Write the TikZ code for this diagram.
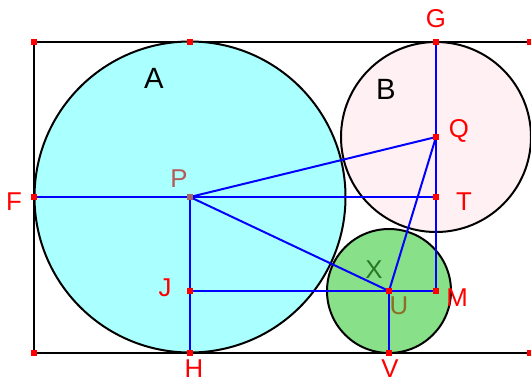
\documentclass[tikz,border=0pt]{standalone}
\usepackage{fontspec}
\setmainfont{Liberation Sans}
\usepackage{tikz}
\usetikzlibrary{positioning}

\definecolor{fillA}{RGB}{170,255,255}
\definecolor{fillB}{RGB}{255,240,243}
\definecolor{fillX}{RGB}{136,224,136}
\definecolor{labP}{RGB}{180,90,90}
\definecolor{labX}{RGB}{40,120,40}
\definecolor{labU}{RGB}{140,110,40}

\begin{document}
\begin{tikzpicture}[
  x=0.03cm, y=-0.03cm,
  every node/.style={font=\fontsize{22}{22}\selectfont},
  pt/.style={rectangle, fill=red, inner sep=0pt, minimum size=5pt},
  seg/.style={blue, line width=1.7pt},
  ring/.style={black, line width=1.7pt},
  lbl/.style={text=red},
  big/.style={font=\fontsize{25}{25}\selectfont},
]
  \useasboundingbox (0,0) rectangle (531,383);

  % points
  \coordinate (TL) at (34,42);
  \coordinate (TM) at (190,42);
  \coordinate (G) at (436,42);
  \coordinate (TR) at (530,42);
  \coordinate (F) at (34,197);
  \coordinate (P) at (190,197);
  \coordinate (Q) at (436,137);
  \coordinate (T) at (436,197);
  \coordinate (J) at (190,291);
  \coordinate (U) at (389,291);
  \coordinate (M) at (436,291);
  \coordinate (BL) at (34,353);
  \coordinate (H) at (190,353);
  \coordinate (V) at (389,353);
  \coordinate (BR) at (530,353);

  % frame
  \draw[ring] (TR) -- (TL) -- (BL) -- (BR);

  % circles
  \draw[ring, fill=fillA] (P) circle[radius=155.5];
  \draw[ring, fill=fillB] (Q) circle[radius=95];
  \draw[ring, fill=fillX] (U) circle[radius=62];

  % segments
  \draw[seg] (F) -- (T);
  \draw[seg] (P) -- (H);
  \draw[seg] (J) -- (M);
  \draw[seg] (G) -- (M);
  \draw[seg] (P) -- (Q);
  \draw[seg] (P) -- (U);
  \draw[seg] (Q) -- (U);
  \draw[seg] (U) -- (V);

  \foreach \p in {TL,TM,G,TR,F,Q,T,J,U,M,BL,H,V,BR}
    \node[pt] (m\p) at (\p) {};
  \node[pt, fill=labP!70!gray] (mP) at (P) {};

  % labels
  \node[big] (lA) at (154,78) {A};
  \node[big] (lB) at (386,89) {B};
  \node[lbl] (lG) at (436,19) {G};
  \node[lbl] (lQ) at (459,131) {Q};
  \node[lbl] (lT) at (464,202) {T};
  \node[lbl] (lF) at (14,202) {F};
  \node[text=labP] (lP) at (179,179) {P};
  \node[lbl] (lJ) at (165,288) {J};
  \node[lbl] (lH) at (194,369) {H};
  \node[lbl] (lV) at (390,369) {V};
  \node[lbl] (lM) at (457,298) {M};
  \node[text=labX] (lX) at (374,270) {X};
  \node[text=labU] (lU) at (399,306) {U};
\end{tikzpicture}
\end{document}
